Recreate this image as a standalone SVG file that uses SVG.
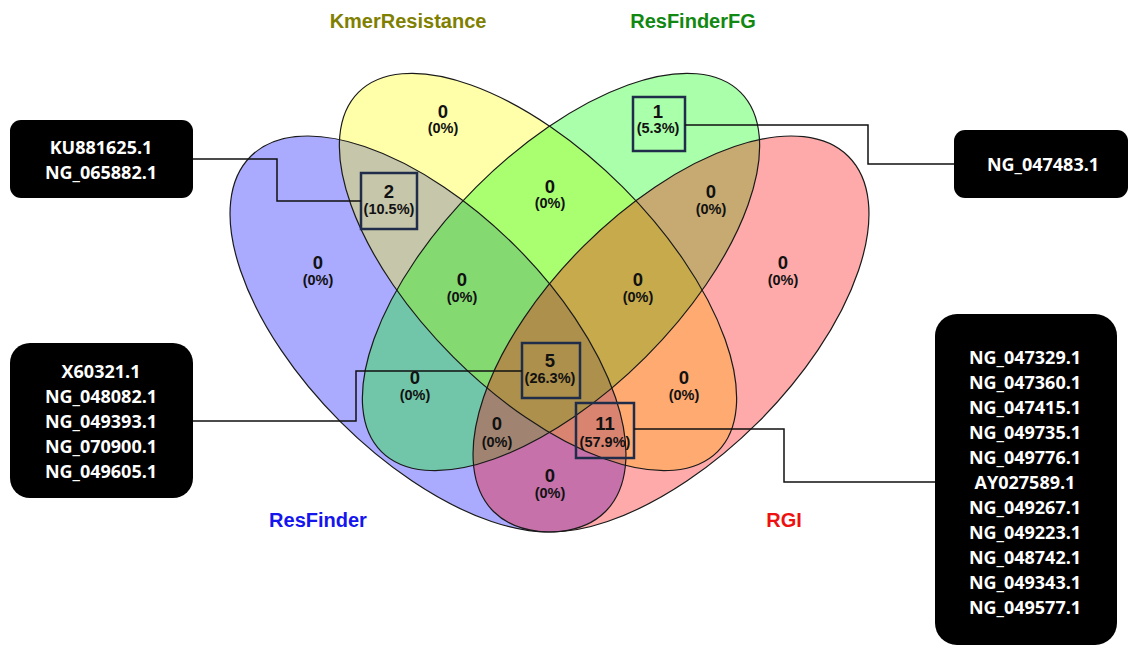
<svg xmlns="http://www.w3.org/2000/svg" width="1130" height="646" viewBox="0 0 1130 646">
  <style>
    .set { stroke: none; fill-opacity: 0.3333; }
    .outline { fill: none; stroke: #1a1a1a; stroke-width: 1.2; }
    .title { font-family: "Liberation Sans", Arial, sans-serif; font-weight: bold; font-size: 20px; text-anchor: middle; }
    .cnt { font-family: "Liberation Sans", Arial, sans-serif; font-weight: bold; font-size: 18.5px; text-anchor: middle; fill: #111; }
    .pct { font-family: "Liberation Sans", Arial, sans-serif; font-weight: bold; font-size: 14.5px; text-anchor: middle; fill: #111; }
    .hl { fill: none; stroke: #1f2d4a; stroke-width: 2.5; }
    .tag { fill: #000; }
    .tagtext { font-family: "Open Sans", "DejaVu Sans", sans-serif; font-weight: bold; font-size: 18px; text-anchor: middle; fill: #fff; }
    .link { fill: none; stroke: #111; stroke-width: 1.5; }
  </style>
  <defs>
    <ellipse id="shape-resfinder" cx="0" cy="0" rx="251" ry="124" transform="translate(428 334) rotate(45)"/>
    <ellipse id="shape-kmer" cx="0" cy="0" rx="254" ry="120" transform="translate(538 272) rotate(45)"/>
    <ellipse id="shape-fg" cx="0" cy="0" rx="254" ry="120" transform="translate(561 272) rotate(-45)"/>
    <ellipse id="shape-rgi" cx="0" cy="0" rx="251" ry="124" transform="translate(671 334) rotate(-45)"/>
  </defs>

  <!-- set fills, painted in order so overlaps blend -->
  <g id="set-resfinder"><use href="#shape-resfinder" class="set" fill="#0000ff"/></g>
  <g id="set-kmerresistance"><use href="#shape-kmer" class="set" fill="#ffff00"/></g>
  <g id="set-resfinderfg"><use href="#shape-fg" class="set" fill="#00ff00"/></g>
  <g id="set-rgi"><use href="#shape-rgi" class="set" fill="#ff0000"/></g>

  <!-- set outlines on top of all fills -->
  <g id="set-outlines">
    <use href="#shape-resfinder" class="outline"/>
    <use href="#shape-kmer" class="outline"/>
    <use href="#shape-fg" class="outline"/>
    <use href="#shape-rgi" class="outline"/>
  </g>

  <!-- set names -->
  <g id="set-names">
    <text class="title" x="408" y="28" fill="#808000">KmerResistance</text>
    <text class="title" x="693" y="28" fill="#118811">ResFinderFG</text>
    <text class="title" x="318" y="527" fill="#1515ee">ResFinder</text>
    <text class="title" x="784" y="527" fill="#ee1111">RGI</text>
  </g>

  <!-- region counts -->
  <g id="regions">
    <g id="r-kmer"><text class="cnt" x="443" y="118">0</text><text class="pct" x="443" y="133">(0%)</text></g>
    <g id="r-fg"><text class="cnt" x="658" y="118">1</text><text class="pct" x="658" y="133">(5.3%)</text></g>
    <g id="r-resfinder"><text class="cnt" x="318" y="269">0</text><text class="pct" x="318" y="285">(0%)</text></g>
    <g id="r-rgi"><text class="cnt" x="783" y="269">0</text><text class="pct" x="783" y="285">(0%)</text></g>
    <g id="r-resfinder-kmer"><text class="cnt" x="389" y="198">2</text><text class="pct" x="389" y="214">(10.5%)</text></g>
    <g id="r-kmer-fg"><text class="cnt" x="550" y="193">0</text><text class="pct" x="550" y="208">(0%)</text></g>
    <g id="r-fg-rgi"><text class="cnt" x="711" y="198">0</text><text class="pct" x="711" y="214">(0%)</text></g>
    <g id="r-resfinder-kmer-fg"><text class="cnt" x="462" y="286">0</text><text class="pct" x="462" y="302">(0%)</text></g>
    <g id="r-kmer-fg-rgi"><text class="cnt" x="638" y="286">0</text><text class="pct" x="638" y="302">(0%)</text></g>
    <g id="r-resfinder-fg"><text class="cnt" x="415" y="384">0</text><text class="pct" x="415" y="400">(0%)</text></g>
    <g id="r-kmer-rgi"><text class="cnt" x="684" y="384">0</text><text class="pct" x="684" y="400">(0%)</text></g>
    <g id="r-all"><text class="cnt" x="550" y="367">5</text><text class="pct" x="550" y="383">(26.3%)</text></g>
    <g id="r-resfinder-fg-rgi"><text class="cnt" x="497" y="430">0</text><text class="pct" x="497" y="447">(0%)</text></g>
    <g id="r-resfinder-kmer-rgi"><text class="cnt" x="605" y="430">11</text><text class="pct" x="605" y="447">(57.9%)</text></g>
    <g id="r-resfinder-rgi"><text class="cnt" x="550" y="482">0</text><text class="pct" x="550" y="498">(0%)</text></g>
  </g>

  <!-- highlighted regions -->
  <g id="highlights">
    <rect class="hl" x="361" y="173" width="56" height="56"/>
    <rect class="hl" x="633" y="97" width="52" height="54"/>
    <rect class="hl" x="522" y="343" width="58" height="55"/>
    <rect class="hl" x="576" y="403" width="58" height="55"/>
  </g>

  <!-- connectors -->
  <g id="connectors">
    <path class="link" d="M193 159 H277 V201 H361"/>
    <path class="link" d="M193 421 H356 V371 H522"/>
    <path class="link" d="M685 125 H868 V164 H954"/>
    <path class="link" d="M634 429 H784 V482 H935"/>
  </g>

  <!-- accession lists -->
  <g id="list-resfinder-kmer">
    <rect class="tag" x="10" y="120" width="183" height="78" rx="11"/>
    <text class="tagtext" x="101" y="154">KU881625.1</text>
    <text class="tagtext" x="101" y="179">NG_065882.1</text>
  </g>
  <g id="list-all">
    <rect class="tag" x="10" y="343" width="183" height="155" rx="20"/>
    <text class="tagtext" x="101" y="378">X60321.1</text>
    <text class="tagtext" x="101" y="403">NG_048082.1</text>
    <text class="tagtext" x="101" y="428">NG_049393.1</text>
    <text class="tagtext" x="101" y="453">NG_070900.1</text>
    <text class="tagtext" x="101" y="478">NG_049605.1</text>
  </g>
  <g id="list-fg">
    <rect class="tag" x="954" y="130" width="174" height="68" rx="11"/>
    <text class="tagtext" x="1043" y="171">NG_047483.1</text>
  </g>
  <g id="list-resfinder-kmer-rgi">
    <rect class="tag" x="935" y="314" width="182" height="331" rx="22"/>
    <text class="tagtext" x="1025" y="364">NG_047329.1</text>
    <text class="tagtext" x="1025" y="389">NG_047360.1</text>
    <text class="tagtext" x="1025" y="414">NG_047415.1</text>
    <text class="tagtext" x="1025" y="439">NG_049735.1</text>
    <text class="tagtext" x="1025" y="464">NG_049776.1</text>
    <text class="tagtext" x="1025" y="489">AY027589.1</text>
    <text class="tagtext" x="1025" y="514">NG_049267.1</text>
    <text class="tagtext" x="1025" y="539">NG_049223.1</text>
    <text class="tagtext" x="1025" y="564">NG_048742.1</text>
    <text class="tagtext" x="1025" y="589">NG_049343.1</text>
    <text class="tagtext" x="1025" y="614">NG_049577.1</text>
  </g>
</svg>
